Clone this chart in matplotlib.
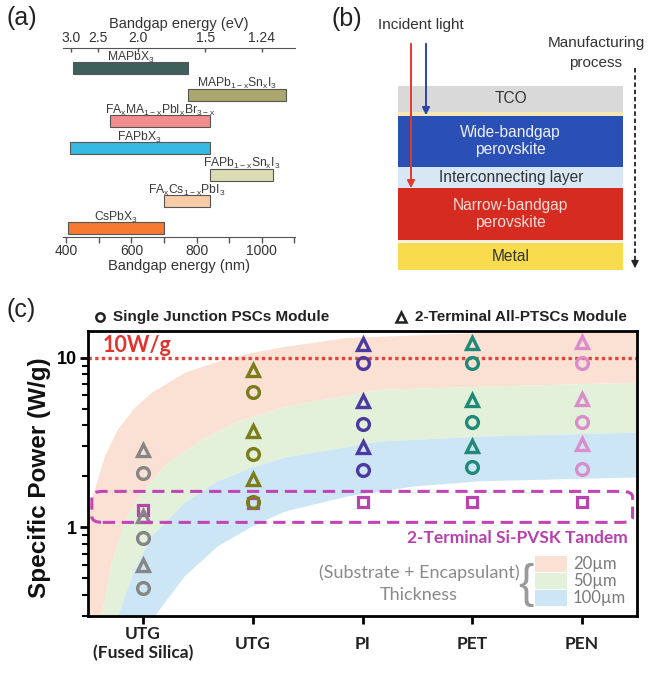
import numpy as np
import matplotlib
matplotlib.use("Agg")
import matplotlib.pyplot as plt
from matplotlib.patches import FancyBboxPatch, Rectangle
from matplotlib.lines import Line2D

plt.rcParams['font.family'] = ['Liberation Sans', 'DejaVu Sans']
plt.rcParams['mathtext.default'] = 'regular'

# ---------------- panel (a) data ----------------
perov_names = ['MAPbX$_3$', 'MAPb$_{1-x}$Sn$_x$I$_3$', 'FA$_x$MA$_{1-x}$PbI$_x$Br$_{3-x}$',
               'FAPbX$_3$', 'FAPb$_{1-x}$Sn$_x$I$_3$', 'FA$_x$Cs$_{1-x}$PbI$_3$', 'CsPbX$_3$']
perov_start_nm = [420, 775, 535, 410, 840, 700, 405]
perov_end_nm = [775, 1075, 840, 840, 1035, 840, 700]
perov_colors = ['#3e5f5c', '#aaa86e', '#f28d8e', '#36b9e1', '#dcdcb4', '#f7cca6', '#f47b31']
nm_ticks = [400, 600, 800, 1000]
nm_minor = [500, 700, 900, 1100]
ev_ticks = [3.0, 2.5, 2.0, 1.5, 1.24]
ev_ticklabels = ['3.0', '2.5', '2.0', '1.5', '1.24']

# ---------------- panel (b) data ----------------
layer_names = ['TCO', '', 'Wide-bandgap\nperovskite', 'Interconnecting layer',
               'Narrow-bandgap\nperovskite', '', 'Metal']
layer_thick = [25.7, 4.3, 50.7, 21.6, 51.7, 3.3, 26.7]
layer_colors = ['#d9d9d9', '#f4e8b4', '#2b50b5', '#d7e7f4', '#d62b20', '#f7f0e2', '#f8dc4e']
layer_text_colors = ['#333333', '#333333', '#eef0fa', '#333333', '#f7dcd8', '#333333', '#333333']

# ---------------- panel (c) data ----------------
substrates = ['UTG\n(Fused Silica)', 'UTG', 'PI', 'PET', 'PEN']
sub_colors = ['#868686', '#7b7d1c', '#4b3ba0', '#1f8a78', '#d98dcb']
single_junction = [[2.09, 0.86, 0.44], [6.30, 2.71, 1.41], [9.35, 4.09, 2.17],
                   [9.35, 4.18, 2.28], [9.35, 4.18, 2.22]]
all_perovskite = [[2.86, 1.17, 0.60], [8.5, 3.68, 1.92], [12.1, 5.56, 2.99],
                  [12.3, 5.63, 3.02], [12.4, 5.74, 3.09]]
si_pvsk = [1.26, 1.40, 1.42, 1.42, 1.42]
si_pvsk_color = '#b845ad'
target_power = 10
tandem_box_lo, tandem_box_hi = 1.07, 1.63

# thickness bands (x in category units, y in W/g)
band20_top_x = [-0.5, -0.437, -0.346, -0.228, -0.073, 0.082, 0.383, 0.683, 0.993, 1.294, 1.859, 3.07, 4.5]
band20_top_y = [1.25, 1.67, 2.62, 3.77, 5.08, 6.22, 8.16, 9.47, 10.7, 11.6, 13.1, 14.0, 14.4]
band50_top_x = [-0.374, -0.282, -0.164, -0.009, 0.228, 0.538, 0.838, 1.294, 2.159, 3.07, 4.5]
band50_top_y = [0.30, 0.62, 1.07, 1.61, 2.41, 3.29, 4.15, 5.15, 6.48, 6.75, 7.13]
band100_top_x = [-0.228, -0.073, 0.082, 0.383, 0.683, 0.993, 1.294, 2.159, 3.07, 4.5]
band100_top_y = [0.30, 0.566, 0.885, 1.40, 1.87, 2.25, 2.58, 3.21, 3.43, 3.62]
band100_bot_x = [0.109, 0.383, 0.683, 0.993, 1.294, 1.859, 2.46, 3.07, 4.5]
band100_bot_y = [0.30, 0.515, 0.773, 1.01, 1.24, 1.52, 1.74, 1.87, 1.97]
band_labels = ['20\u00b5m', '50\u00b5m', '100\u00b5m']
band_colors = ['#fbe1d3', '#e3f0da', '#cde6f5']

# ---------------- figure ----------------
W, H = 663, 680
fig = plt.figure(figsize=(W / 100, H / 100), dpi=100)


def fx(x):
    return x / W


def fy(y):
    return 1 - y / H


# ================= panel (a) =================
axa = fig.add_axes([fx(63), fy(237), (295 - 63) / W, (237 - 48) / H])
ypos = np.arange(len(perov_names))
starts = np.array(perov_start_nm, float)
ends = np.array(perov_end_nm, float)
axa.barh(ypos, ends - starts, left=starts, height=0.45, color=perov_colors,
         edgecolor='#555555', linewidth=0.8)
for i in range(len(perov_names)):
    axa.text((starts[i] + ends[i]) / 2, ypos[i] - 0.28, perov_names[i], ha='center',
             va='baseline', fontsize=8.7, color='#3a3a3a')
axa.set_ylim(6.34, -0.75)
axa.set_xlim(390, 1102)
axa.set_yticks([])
for s in ['left', 'right', 'top']:
    axa.spines[s].set_visible(False)
axa.spines['bottom'].set_color('#555555')
axa.set_xticks(nm_ticks)
axa.set_xticks(nm_minor, minor=True)
axa.tick_params(axis='x', which='both', direction='out', length=4, width=1,
                color='#555555', labelcolor='#333333', labelsize=10, pad=1)
axa.set_xlabel('Bandgap energy (nm)', fontsize=10.5, labelpad=1, color='#333333')


def nm2ev(x):
    x = np.asarray(x, float)
    return 1240.0 / np.clip(x, 1e-6, None)


sec = axa.secondary_xaxis('top', functions=(nm2ev, nm2ev))
sec.set_xticks(ev_ticks, labels=ev_ticklabels)
sec.tick_params(direction='in', length=3, width=1, color='#555555',
                labelcolor='#333333', labelsize=10, pad=2)
sec.spines['top'].set_color('#555555')
sec.set_xlabel('Bandgap energy (eV)', fontsize=10.5, labelpad=2, color='#333333')
fig.text(fx(22), fy(18), '(a)', fontsize=18, ha='center', va='center', color='#222222')

# ================= panel (b) =================
axb = fig.add_axes([fx(330), fy(290), 333 / W, 290 / H])
axb.set_xlim(330, 663)
axb.set_ylim(290, 0)
axb.axis('off')
thick = np.array(layer_thick)
bottoms = 86 + np.concatenate([[0], np.cumsum(thick)[:-1]])
axb.bar([510.8] * len(thick), thick, bottom=bottoms, width=225, color=layer_colors)
for name, b, t, c in zip(layer_names, bottoms, thick, layer_text_colors):
    if name:
        axb.text(510.8, b + t / 2, name, ha='center', va='center', fontsize=11.2,
                 color=c, linespacing=1.15)
axb.annotate('', xy=(411, 191), xytext=(411, 41),
             arrowprops=dict(arrowstyle='-|>', color='#e03a2c', lw=1.4, mutation_scale=11))
axb.annotate('', xy=(426, 118), xytext=(426, 41),
             arrowprops=dict(arrowstyle='-|>', color='#2b47a6', lw=1.4, mutation_scale=11))
axb.text(421, 25, 'Incident light', ha='center', va='center', fontsize=11, color='#333333')
axb.text(596, 43, 'Manufacturing', ha='center', va='center', fontsize=11, color='#333333')
axb.text(596, 63, 'process', ha='center', va='center', fontsize=11, color='#333333')
axb.plot([635, 635], [68, 262], color='#222222', lw=1.3, ls=(0, (2.5, 1.5)))
axb.annotate('', xy=(635, 271), xytext=(635, 259),
             arrowprops=dict(arrowstyle='-|>', color='#222222', lw=1.0, mutation_scale=11))
fig.text(fx(347), fy(19), '(b)', fontsize=18, ha='center', va='center', color='#222222')

# ================= panel (c) =================
axc = fig.add_axes([fx(88), fy(616), (637 - 88) / W, (616 - 331) / H])
axc.set_yscale('log')
axc.set_xlim(-0.5, 4.5)
axc.set_ylim(0.30, 14.4)


def band(ux, uy, lx, ly, color):
    xs = list(ux) + list(lx)[::-1]
    ys = list(uy) + list(ly)[::-1]
    axc.fill(xs, ys, color=color, lw=0, zorder=1)


band(band20_top_x, band20_top_y, [-0.5] + band50_top_x, [0.30] + band50_top_y, band_colors[0])
band(band50_top_x, band50_top_y, band100_top_x, band100_top_y, band_colors[1])
band(band100_top_x, band100_top_y, band100_bot_x, band100_bot_y, band_colors[2])

axc.axhline(target_power, color='#e0453c', lw=2.4, ls=(0, (1, 1)), zorder=2)

xcat = np.arange(len(substrates))
mk = dict(mfc='none', ms=8.5, mew=2.4, ls='none', zorder=4)
for i, col in enumerate(sub_colors):
    axc.plot([xcat[i]] * len(single_junction[i]), single_junction[i], marker='o', mec=col, **mk)
    axc.plot([xcat[i]] * len(all_perovskite[i]), all_perovskite[i], marker='^', mec=col, **mk)
axc.plot(xcat, si_pvsk, marker='s', mec=si_pvsk_color, mfc='none', ms=7, mew=2.3,
         ls='none', zorder=3)

# dashed rounded box around Si-PVSK tandem
to_ax = axc.transScale + axc.transLimits
(bx0, by0) = to_ax.transform((-0.465, tandem_box_lo))
(bx1, by1) = to_ax.transform((4.46, tandem_box_hi))
box = FancyBboxPatch((bx0, by0), bx1 - bx0, by1 - by0,
                     boxstyle='round,pad=0,rounding_size=0.02',
                     transform=axc.transAxes, fill=False, ec='#c145b6', lw=2.2,
                     ls=(0, (4, 2.2)), zorder=5, clip_on=False)
axc.add_patch(box)

lato = ['Lato', 'DejaVu Sans']
axc.text(-0.37, 11.9, '10W/g', color='#e2342f', fontsize=15.5, fontweight='bold',
         family=lato, ha='left', va='center', zorder=6)
axc.text(4.42, 0.86, '2-Terminal Si-PVSK Tandem', color='#b83fae', fontsize=12.5,
         fontweight='bold', family=lato, ha='right', va='center', zorder=6)

# thickness legend
axc.text((419 - 88) / 549, (616 - 573) / 285, '(Substrate + Encapsulant)', transform=axc.transAxes,
         ha='center', va='center', fontsize=13, color='#8a8a8a', family=lato)
axc.text((419 - 88) / 549, (616 - 595) / 285, 'Thickness', transform=axc.transAxes,
         ha='center', va='center', fontsize=13, color='#8a8a8a', family=lato)
axc.text((526 - 88) / 549, (616 - 585) / 285, '{', transform=axc.transAxes,
         ha='center', va='center', fontsize=33, color='#9a9a9a', family=['Liberation Sans'])
sw_tops = [556, 573, 590]
for lab, col, top in zip(band_labels, band_colors, sw_tops):
    fig.add_artist(Rectangle((fx(535), fy(top + 16)), 32 / W, 16 / H, transform=fig.transFigure,
                             color=col, lw=0))
    fig.text(fx(573), fy(top + 8), lab, ha='left', va='center', fontsize=12,
             color='#7a7a7a', family=lato)

# axes styling
for s in axc.spines.values():
    s.set_linewidth(2)
    s.set_zorder(7)
axc.set_xticks(xcat)
axc.set_xticklabels(substrates, family=lato, fontweight='bold', fontsize=12.5, color='#222222')
for lbl in axc.get_xticklabels():
    lbl.set_va('center')
axc.tick_params(axis='x', length=6, width=2, pad=14)
axc.set_yticks([1, 10])
axc.set_yticklabels(['1', '10'], fontweight='bold', fontsize=13)
axc.tick_params(axis='y', which='major', length=6, width=2, pad=2)
axc.tick_params(axis='y', which='minor', length=4, width=1.5)
axc.yaxis.set_minor_formatter(plt.NullFormatter())
fig.text(fx(40), fy(478), 'Specific Power (W/g)', rotation=90, ha='center', va='center',
         fontsize=17.5, fontweight='bold', color='#111111')

# top legend of panel (c)
fig.add_artist(Line2D([fx(100)], [fy(317)], marker='o', mfc='none', mec='#222222', mew=1.8,
                      ms=6, transform=fig.transFigure))
fig.text(fx(113), fy(317), 'Single Junction PSCs Module', ha='left', va='center',
         fontsize=11, fontweight='bold', color='#222222')
fig.add_artist(Line2D([fx(401)], [fy(317)], marker='^', mfc='none', mec='#222222', mew=1.8,
                      ms=7, transform=fig.transFigure))
fig.text(fx(415), fy(317), '2-Terminal All-PTSCs Module', ha='left', va='center',
         fontsize=11, fontweight='bold', color='#222222')
fig.text(fx(21), fy(310), '(c)', fontsize=18, ha='center', va='center', color='#222222')

fig.savefig('out.png', dpi=100)
